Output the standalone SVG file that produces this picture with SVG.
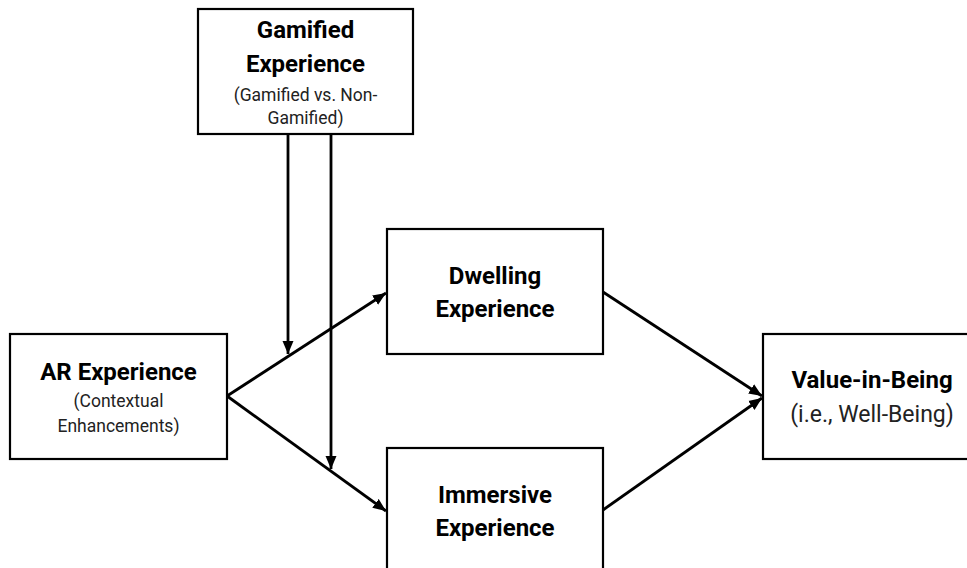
<svg xmlns="http://www.w3.org/2000/svg" width="967" height="568" viewBox="0 0 967 568">
<defs>
<style>
.box{fill:#fff;stroke:#000;stroke-width:2.2}
.t{font-family:Roboto,"Liberation Sans",sans-serif;text-anchor:middle;fill:#000}
.b{font-weight:bold;font-size:24px}
.s{font-size:17.5px;fill:#222}
.m{font-size:23px;fill:#222}
.c{stroke:#000;stroke-width:2.8;fill:none;marker-end:url(#ah)}
</style>
<marker id="ah" markerUnits="userSpaceOnUse" markerWidth="14" markerHeight="12" viewBox="0 0 14 12" refX="13" refY="6" orient="auto">
<path d="M0,0.5 L13,6 L0,11.5 Z" fill="#000"/>
</marker>
</defs>
<rect width="967" height="568" fill="#fff"/>
<g id="connectors">
<line class="c" x1="288" y1="134" x2="288" y2="354"/>
<line class="c" x1="331" y1="134" x2="331" y2="469"/>
<line class="c" x1="227" y1="396" x2="386" y2="293"/>
<line class="c" x1="227" y1="396" x2="386" y2="511"/>
<line class="c" x1="603" y1="292" x2="762" y2="396"/>
<line class="c" x1="603" y1="510" x2="762" y2="398"/>
</g>
<g id="gamified">
<rect class="box" x="198" y="9" width="215" height="125"/>
<text class="t b" x="305.5" y="38">Gamified</text>
<text class="t b" x="305.5" y="72">Experience</text>
<text class="t s" x="305.5" y="101">(Gamified vs. Non-</text>
<text class="t s" x="305.5" y="124">Gamified)</text>
</g>
<g id="ar">
<rect class="box" x="10" y="334" width="217" height="125"/>
<text class="t b" x="118.5" y="380">AR Experience</text>
<text class="t s" x="118.5" y="407">(Contextual</text>
<text class="t s" x="118.5" y="432">Enhancements)</text>
</g>
<g id="dwelling">
<rect class="box" x="387" y="229" width="216" height="125"/>
<text class="t b" x="495" y="284">Dwelling</text>
<text class="t b" x="495" y="317">Experience</text>
</g>
<g id="immersive">
<rect class="box" x="387" y="448" width="216" height="130"/>
<text class="t b" x="495" y="503">Immersive</text>
<text class="t b" x="495" y="536">Experience</text>
</g>
<g id="value">
<rect class="box" x="763" y="334" width="220" height="125"/>
<text class="t b" x="872" y="388">Value-in-Being</text>
<text class="t m" x="872" y="422">(i.e., Well-Being)</text>
</g>
</svg>
